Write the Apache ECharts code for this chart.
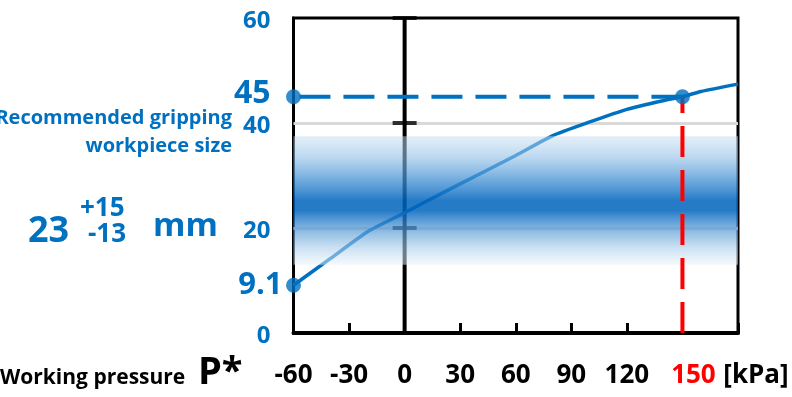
<!DOCTYPE html>
<html>
<head>
<meta charset="utf-8">
<script src="https://cdn.jsdelivr.net/npm/echarts@6/dist/echarts.min.js"></script>
<style>
html,body{margin:0;padding:0;background:#fff;}
#chart{width:792px;height:397px;}
</style>
</head>
<body>
<div id="chart"></div>
<script>
// ---- data ----
const pressure = [-60, -40, -20, 0, 20, 40, 60, 80, 100, 120, 140, 150, 160, 180];
const gripSize = [9.1, 14.2, 19.3, 22.9, 26.6, 30.2, 33.8, 37.6, 40.2, 42.6, 44.3, 45.0, 46.0, 47.4];
const xLabels = [-60, -30, 0, 30, 60, 90, 120, 150];
const unitLabelAt = [180];
const yLabels = [0, 9.1, 20, 40, 45, 60];
const gridValues = [20, 40];
const keyPoints = [[-60, 45], [-60, 9.1], [150, 45]];
const refLineH = [[150, 45], [-60, 45]];
const refLineV = [[150, 0], [150, 45]];
const zeroLine = [[0, 0], [0, 60]];
const zeroCaps = [[0, 20], [0, 40], [0, 60]];
const bandRange = [13, 37.5];
const xRange = [-60, 180];
const yRange = [0, 60];

const BLUE = '#0070C0';
const FONT = '"Open Sans", "Noto Sans", sans-serif';

const chart = echarts.init(document.getElementById('chart'), null, {renderer: 'canvas'});

const curveData = pressure.map((p, i) => [p, gripSize[i]]);

const option = {
  animation: false,
  grid: {
    left: 293.5, right: 54, top: 18, bottom: 64,
    show: true, borderColor: '#000', borderWidth: 3, backgroundColor: 'transparent'
  },
  xAxis: [
    {
      type: 'value', min: xRange[0], max: xRange[1], interval: 30, position: 'bottom',
      axisLine: {show: true, onZero: false, lineStyle: {color: '#000', width: 4}},
      axisTick: {show: true, inside: true, length: 10, lineStyle: {color: '#000', width: 3}},
      splitLine: {show: false},
      axisLabel: {
        customValues: xLabels,
        margin: 29,
        fontFamily: FONT, fontWeight: 'bold', fontSize: 26, color: '#000', lineHeight: 28,
        formatter: function (v) {
          if (v === 150) return '{r|150}';
          return String(v);
        },
        rich: {
          r: {color: '#FF0000', fontFamily: FONT, fontWeight: 'bold', fontSize: 26, lineHeight: 28, padding: [0, 0, 0, 22]}
        }
      }
    },
    {
      type: 'value', min: xRange[0], max: xRange[1], interval: 30, position: 'bottom',
      axisLine: {show: false, onZero: false},
      axisTick: {show: false},
      splitLine: {show: false},
      axisLabel: {
        customValues: unitLabelAt,
        margin: 29,
        fontFamily: FONT, fontWeight: 'bold', fontSize: 26, color: '#000', lineHeight: 28,
        formatter: function () { return '{k|[kPa]}'; },
        rich: {
          k: {color: '#000', fontFamily: FONT, fontWeight: 'bold', fontSize: 26, lineHeight: 28, padding: [0, 0, 0, 36]}
        }
      }
    }
  ],
  yAxis: {
    type: 'value', min: yRange[0], max: yRange[1],
    axisLine: {show: true, onZero: false, lineStyle: {color: '#000', width: 3}},
    axisTick: {show: false},
    splitLine: {show: false},
    axisLabel: {
      customValues: yLabels,
      margin: 11,
      formatter: function (v) {
        if (v === 45) return '{b|45}';
        if (Math.abs(v - 9.1) < 1e-6) return '{c|9.1}';
        return '{n|' + v + '}';
      },
      rich: {
        n: {color: BLUE, fontFamily: FONT, fontWeight: 'bold', fontSize: 24, padding: [6, 12, 0, 0]},
        b: {color: BLUE, fontFamily: FONT, fontWeight: 'bold', fontSize: 32, padding: [0, 12, 6, 0]},
        c: {color: BLUE, fontFamily: FONT, fontWeight: 'bold', fontSize: 31}
      }
    }
  },
  series: [
    {
      name: 'grid', type: 'line', data: [], z: 1, silent: true,
      markLine: {
        silent: true, z: 1, symbol: ['none', 'none'], label: {show: false},
        lineStyle: {color: '#d9d9d9', width: 3, type: 'solid'},
        data: gridValues.map(v => ({yAxis: v}))
      }
    },
    {
      name: 'zero', type: 'line', data: zeroLine, z: 2, symbol: 'none', silent: true,
      lineStyle: {color: '#000', width: 4}
    },
    {
      name: 'caps', type: 'scatter', data: zeroCaps, z: 2, silent: true,
      symbol: 'rect', symbolSize: [24, 4], itemStyle: {color: '#000'}
    },
    {
      name: 'curve', type: 'line', data: curveData, z: 2, symbol: 'none', smooth: 0.2,
      lineStyle: {color: BLUE, width: 3.5}
    },
    {
      name: 'band', type: 'line', data: [], z: 3, silent: true,
      markArea: {
        silent: true, z: 3,
        itemStyle: {
          color: {
            type: 'linear', x: 0, y: 0, x2: 0, y2: 1,
            colorStops: [
              {offset: 0, color: 'rgba(200,222,242,0.5)'},
              {offset: 0.15, color: 'rgba(150,195,232,0.6)'},
              {offset: 0.35, color: 'rgba(60,140,210,0.75)'},
              {offset: 0.5, color: 'rgba(0,100,190,0.85)'},
              {offset: 0.58, color: 'rgba(0,100,190,0.85)'},
              {offset: 0.72, color: 'rgba(80,150,212,0.7)'},
              {offset: 0.88, color: 'rgba(175,208,236,0.6)'},
              {offset: 1, color: 'rgba(235,243,250,0.5)'}
            ]
          }
        },
        data: [[{coord: [xRange[0], bandRange[1]]}, {coord: [xRange[1], bandRange[0]]}]]
      }
    },
    {
      name: 'refV', type: 'line', data: refLineV, z: 4, symbol: 'none', silent: true,
      lineStyle: {color: '#FF0000', width: 4, type: [31, 13]}
    },
    {
      name: 'refH', type: 'line', data: refLineH, z: 4, symbol: 'none', silent: true,
      lineStyle: {color: BLUE, width: 4, type: [31, 13]}
    },
    {
      name: 'points', type: 'scatter', data: keyPoints, z: 5, clip: false,
      symbol: 'circle', symbolSize: 15, itemStyle: {color: BLUE}
    }
  ],
  graphic: [
    {type: 'text', x: 232, y: 118, style: {text: 'Recommended gripping', fill: BLUE, font: 'bold 20px ' + FONT, align: 'right', verticalAlign: 'middle'}},
    {type: 'text', x: 232, y: 146, style: {text: 'workpiece size', fill: BLUE, font: 'bold 20px ' + FONT, align: 'right', verticalAlign: 'middle'}},
    {type: 'text', x: 28, y: 232, style: {text: '23', fill: BLUE, font: 'bold 36px ' + FONT, align: 'left', verticalAlign: 'middle'}},
    {type: 'text', x: 80, y: 209, style: {text: '+15', fill: BLUE, font: 'bold 26px ' + FONT, align: 'left', verticalAlign: 'middle'}},
    {type: 'text', x: 88, y: 235, style: {text: '-13', fill: BLUE, font: 'bold 26px ' + FONT, align: 'left', verticalAlign: 'middle'}},
    {type: 'text', x: 153, y: 227, style: {text: 'mm', fill: BLUE, font: 'bold 33px ' + FONT, align: 'left', verticalAlign: 'middle'}},
    {type: 'text', x: 0, y: 378, style: {text: 'Working pressure', fill: '#000', font: 'bold 21px ' + FONT, align: 'left', verticalAlign: 'middle'}},
    {type: 'text', x: 198, y: 373, style: {text: 'P*', fill: '#000', font: 'bold 38px ' + FONT, align: 'left', verticalAlign: 'middle'}}
  ]
};

chart.setOption(option);
</script>
</body>
</html>
